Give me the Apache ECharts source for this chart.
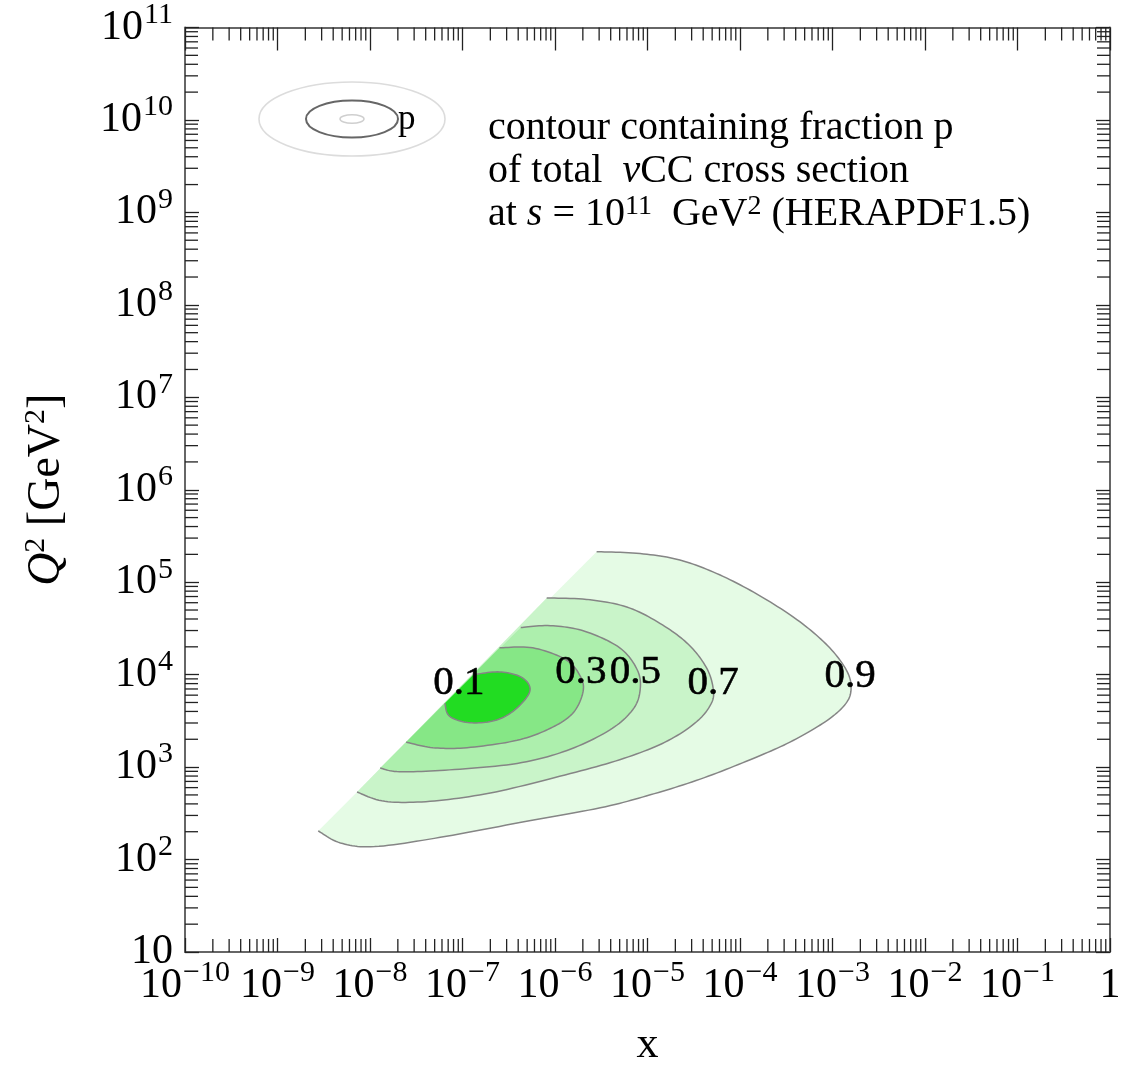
<!DOCTYPE html>
<html>
<head>
<meta charset="utf-8">
<script src="https://cdn.jsdelivr.net/npm/echarts@6/dist/echarts.min.js"></script>
</head>
<body style="margin: 0">
<div id="container" style="width: 1145px; height: 1081px"></div>
<script>
var FONT = '"Liberation Serif", "DejaVu Serif", serif';

// contour lines, points as [log10 x, log10 Q2]
// each open line starts and ends on the kinematic edge (diagonal)
var levels = ['0.9', '0.7', '0.5', '0.3', '0.1'];
var c09 = [[-8.56, 2.31], [-8.32, 2.18], [-7.95, 2.14], [-7.24, 2.24], [-6.38, 2.40], [-5.51, 2.56],
  [-4.97, 2.70], [-4.43, 2.87], [-3.89, 3.08], [-3.46, 3.27], [-3.08, 3.49], [-2.87, 3.67],
  [-2.80, 3.83], [-2.84, 4.03], [-3.03, 4.29], [-3.35, 4.57], [-3.78, 4.85], [-4.22, 5.08],
  [-4.65, 5.24], [-5.08, 5.31], [-5.55, 5.33]];
var c07 = [[-8.14, 2.73], [-7.84, 2.63], [-7.35, 2.63], [-6.70, 2.72], [-5.95, 2.90], [-5.30, 3.08],
  [-4.81, 3.27], [-4.47, 3.49], [-4.31, 3.69], [-4.29, 3.85], [-4.36, 4.07], [-4.54, 4.31],
  [-4.81, 4.52], [-5.19, 4.72], [-5.62, 4.81], [-6.09, 4.83]];
var c05 = [[-7.89, 2.99], [-7.68, 2.95], [-7.14, 2.97], [-6.41, 3.04], [-5.87, 3.18], [-5.41, 3.40],
  [-5.16, 3.62], [-5.08, 3.83], [-5.11, 4.05], [-5.30, 4.29], [-5.68, 4.47], [-6.05, 4.53],
  [-6.37, 4.51]];
var c03 = [[-7.61, 3.27], [-7.32, 3.21], [-6.95, 3.21], [-6.41, 3.29], [-6.05, 3.42], [-5.81, 3.58],
  [-5.70, 3.80], [-5.72, 3.97], [-5.88, 4.16], [-6.24, 4.29], [-6.60, 4.29]];
var c01 = [[-7.19, 3.69], [-7.14, 3.55], [-6.92, 3.48], [-6.63, 3.51], [-6.41, 3.64], [-6.27, 3.83],
  [-6.36, 3.97], [-6.60, 4.03], [-6.88, 4.00]];
var contours = [c09, c07, c05, c03, c01];
var fills = ['#e5fbe5', '#c9f4c9', '#adefad', '#86e786', '#22dc22'];
// where the level labels sit, [log10 x, log10 Q2]
var labelPos = [[-2.81, 3.98], [-4.29, 3.91], [-5.13, 4.03], [-5.72, 4.03], [-7.04, 3.91]];

var xExp = [-10, -9, -8, -7, -6, -5, -4, -3, -2, -1, 0];
var yExp = [1, 2, 3, 4, 5, 6, 7, 8, 9, 10, 11];
var minorMult = [2, 3, 4, 5, 6, 7, 8, 9];

function pw(p) { return [Math.pow(10, p[0]), Math.pow(10, p[1])]; }

var xMin = Math.pow(10, xExp[0]), xMax = Math.pow(10, xExp[xExp.length - 1]);
var yMin = Math.pow(10, yExp[0]), yMax = Math.pow(10, yExp[yExp.length - 1]);

var xMinor = [], yMinor = [];
xExp.slice(0, -1).forEach(function (e) {
  minorMult.forEach(function (m) { xMinor.push([m * Math.pow(10, e), yMin]); });
});
yExp.slice(0, -1).forEach(function (e) {
  minorMult.forEach(function (m) { yMinor.push([xMin, m * Math.pow(10, e)]); });
});

// smooth curve through the read points (pixel space)
function spline(pts) {
  var out = [], n = pts.length;
  for (var i = 0; i < n - 1; i++) {
    var p0 = pts[Math.max(i - 1, 0)], p1 = pts[i], p2 = pts[i + 1], p3 = pts[Math.min(i + 2, n - 1)];
    for (var k = 0; k < 12; k++) {
      var t = k / 12, t2 = t * t, t3 = t2 * t, q = [];
      for (var d = 0; d < 2; d++) {
        q.push(0.5 * (2 * p1[d] + (-p0[d] + p2[d]) * t + (2 * p0[d] - 5 * p1[d] + 4 * p2[d] - p3[d]) * t2 +
          (-p0[d] + 3 * p1[d] - 3 * p2[d] + p3[d]) * t3));
      }
      out.push(q);
    }
  }
  out.push(pts[n - 1]);
  return out;
}

function sup(e) {
  var s = String(e).replace('-', '\u2212');
  return '{b|10}{s|' + s + '}';
}

var labelRich = {
  b: { fontSize: 42, fontFamily: FONT, color: '#000', lineHeight: 55 },
  s: { fontSize: 30, fontFamily: FONT, color: '#000', lineHeight: 30, verticalAlign: 'top', padding: [0, 0, 0, 1] }
};

var dom = document.getElementById('container');
var myChart = echarts.init(dom);

var series = [];
contours.forEach(function (c, i) {
  series.push({
    type: 'custom',
    silent: true,
    clip: false,
    z: 2 + i,
    data: [pw(c[0])],
    renderItem: function (params, api) {
      var pts = spline(c.map(function (p) { return api.coord(pw(p)); }));
      return {
        type: 'group',
        children: [
          { type: 'polygon', shape: { points: pts }, style: { fill: fills[i], stroke: null } },
          { type: 'polyline', shape: { points: pts }, style: { fill: null, stroke: '#858585', lineWidth: 1.5 } }
        ]
      };
    }
  });
});

// level labels, drawn as text at their data positions
series.push({
  type: 'custom',
  silent: true,
  clip: false,
  z: 10,
  data: labelPos.map(function (p) { return pw(p); }),
  renderItem: function (params, api) {
    var pt = api.coord([api.value(0), api.value(1)]);
    return {
      type: 'text',
      x: pt[0], y: pt[1],
      style: {
        text: levels[params.dataIndex], font: '41px ' + FONT, fill: '#000',
        stroke: '#000', lineWidth: 0.6, align: 'center', verticalAlign: 'middle'
      }
    };
  }
});

// minor ticks on all four sides
series.push({
  type: 'custom', silent: true, clip: false, z: 20,
  data: xMinor,
  renderItem: function (params, api) {
    var v = api.value(0);
    var b = api.coord([v, yMin]), t = api.coord([v, yMax]);
    var st = { stroke: '#222', lineWidth: 1.3 };
    return {
      type: 'group', children: [
        { type: 'line', shape: { x1: b[0], y1: b[1], x2: b[0], y2: b[1] - 13 }, style: st },
        { type: 'line', shape: { x1: t[0], y1: t[1], x2: t[0], y2: t[1] + 13 }, style: st }
      ]
    };
  }
});
series.push({
  type: 'custom', silent: true, clip: false, z: 20,
  data: yMinor,
  renderItem: function (params, api) {
    var v = api.value(1);
    var l = api.coord([xMin, v]), r = api.coord([xMax, v]);
    var st = { stroke: '#222', lineWidth: 1.3 };
    return {
      type: 'group', children: [
        { type: 'line', shape: { x1: l[0], y1: l[1], x2: l[0] + 13, y2: l[1] }, style: st },
        { type: 'line', shape: { x1: r[0], y1: r[1], x2: r[0] - 13, y2: r[1] }, style: st }
      ]
    };
  }
});

var axisLineStyle = { show: true, lineStyle: { color: '#666', width: 2 } };
var tickStyle = { show: true, inside: true, length: 14, lineStyle: { color: '#222', width: 1.3 } };

option = {
  animation: false,
  backgroundColor: '#fff',
  grid: { left: 185, top: 27, width: 925, height: 925 },
  xAxis: [{
    type: 'log', logBase: 10, min: xMin, max: xMax, interval: 1,
    axisLine: axisLineStyle, axisTick: tickStyle, splitLine: { show: false },
    axisLabel: {
      margin: 6, showMinLabel: true, showMaxLabel: true, rich: labelRich,
      formatter: function (v) {
        var e = Math.round(Math.log10(v));
        return e === 0 ? '{b|1}' : sup(e);
      }
    },
    name: 'x', nameLocation: 'middle', nameGap: 71,
    nameTextStyle: { fontFamily: FONT, fontSize: 44, color: '#000' }
  }, {
    type: 'log', logBase: 10, min: xMin, max: xMax, interval: 1, position: 'top',
    axisLine: axisLineStyle, axisTick: { show: true, inside: true, length: 23, lineStyle: { color: '#222', width: 1.3 } },
    axisLabel: { show: false }, splitLine: { show: false }
  }],
  yAxis: [{
    type: 'log', logBase: 10, min: yMin, max: yMax, interval: 1,
    axisLine: axisLineStyle, axisTick: tickStyle, splitLine: { show: false },
    axisLabel: {
      margin: 12, showMinLabel: true, showMaxLabel: true, rich: labelRich,
      formatter: function (v) {
        var e = Math.round(Math.log10(v));
        return e === 1 ? '{b|10}' : sup(e);
      }
    },
    name: '{i|Q}{s|2}{n| [GeV}{s|2}{n|]}', nameLocation: 'middle', nameGap: 112,
    nameTextStyle: {
      rich: {
        i: { fontFamily: FONT, fontStyle: 'italic', fontSize: 46, color: '#000', lineHeight: 52 },
        n: { fontFamily: FONT, fontSize: 46, color: '#000', lineHeight: 52 },
        s: { fontFamily: FONT, fontSize: 30, color: '#000', lineHeight: 30, verticalAlign: 'top' }
      }
    }
  }, {
    type: 'log', logBase: 10, min: yMin, max: yMax, interval: 1, position: 'right',
    axisLine: axisLineStyle, axisTick: tickStyle,
    axisLabel: { show: false }, splitLine: { show: false }
  }],
  graphic: [
    { type: 'ellipse', shape: { cx: 352, cy: 119, rx: 93, ry: 37 }, style: { fill: null, stroke: '#dcdcdc', lineWidth: 1.6 } },
    { type: 'ellipse', shape: { cx: 352, cy: 119, rx: 46, ry: 18.5 }, style: { fill: null, stroke: '#666', lineWidth: 2 } },
    { type: 'ellipse', shape: { cx: 352, cy: 119, rx: 12, ry: 4.2 }, style: { fill: null, stroke: '#cfcfcf', lineWidth: 1.5 } },
    { type: 'text', x: 398, y: 120, style: { text: 'p', font: '35px ' + FONT, fill: '#000', verticalAlign: 'middle' } },
    {
      type: 'text', x: 488, y: 107,
      style: {
        text: 'contour containing fraction p\nof total  {i|\u03bd}CC cross section\nat {i|s} = 10{s|11}  GeV{s|2} (HERAPDF1.5)',
        font: '40px ' + FONT, fill: '#000', lineHeight: 43,
        rich: {
          i: { fontFamily: FONT, fontSize: 40, fontStyle: 'italic', lineHeight: 43 },
          s: { fontFamily: FONT, fontSize: 28, lineHeight: 28, verticalAlign: 'top' }
        }
      }
    }
  ],
  series: series
};

if (option && typeof option === "object") {
  myChart.setOption(option, true);
}
</script>
</body>
</html>
